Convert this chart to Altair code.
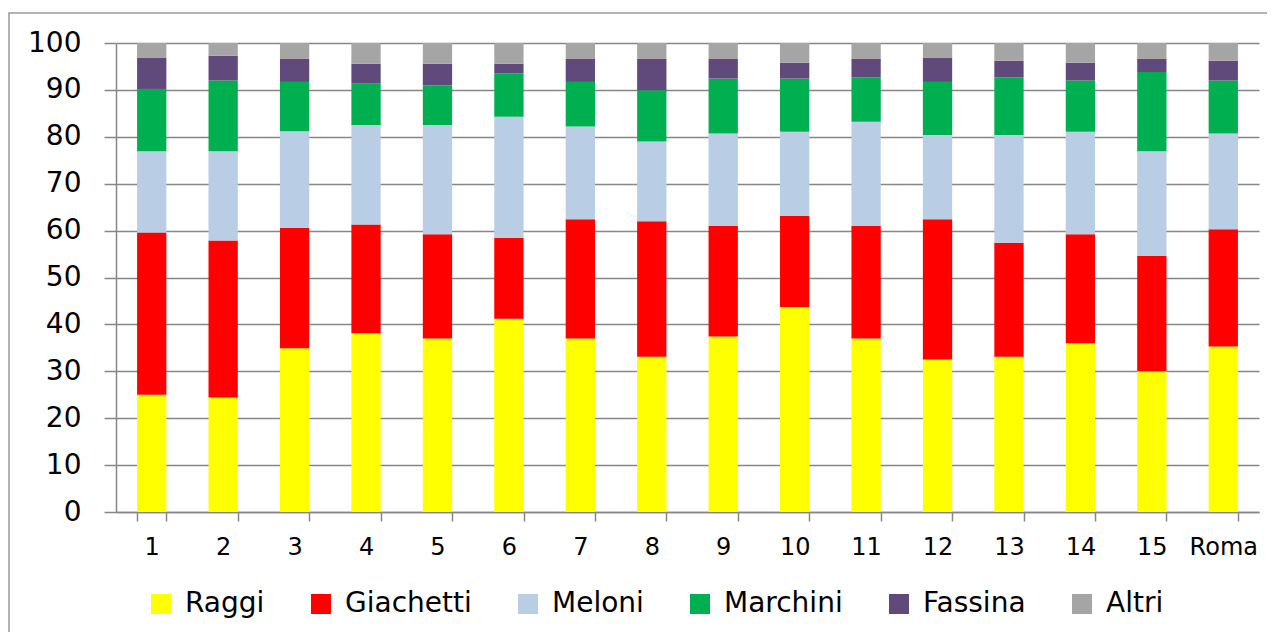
import altair as alt
import pandas as pd

categories = ["1", "2", "3", "4", "5", "6", "7", "8", "9", "10", "11", "12", "13", "14", "15", "Roma"]
series = ["Raggi", "Giachetti", "Meloni", "Marchini", "Fassina", "Altri"]
colors = ["#FFFF00", "#FF0000", "#B9CDE5", "#00B050", "#604A7B", "#A5A5A5"]

raggi = [25.0, 24.4, 34.9, 38.1, 37.0, 41.2, 37.0, 33.1, 37.4, 43.7, 37.0, 32.5, 33.1, 36.0, 30.0, 35.3]
giachetti = [34.6, 33.5, 25.7, 23.2, 22.2, 17.3, 25.4, 28.9, 23.6, 19.4, 24.0, 29.9, 24.3, 23.2, 24.6, 25.0]
meloni = [17.3, 19.0, 20.6, 21.2, 23.3, 25.8, 19.8, 17.0, 19.7, 18.0, 22.2, 18.0, 23.0, 21.9, 22.3, 20.4]
marchini = [13.3, 15.1, 10.5, 8.9, 8.5, 9.2, 9.5, 10.9, 11.7, 11.3, 9.5, 11.3, 12.3, 10.9, 16.9, 11.3]
fassina = [6.7, 5.3, 4.9, 4.2, 4.6, 2.1, 4.9, 6.7, 4.2, 3.4, 3.9, 5.2, 3.5, 3.8, 2.8, 4.2]
altri = [3.1, 2.7, 3.4, 4.4, 4.4, 4.4, 3.4, 3.4, 3.4, 4.2, 3.4, 3.1, 3.8, 4.2, 3.4, 3.8]

y_ticks = list(range(0, 101, 10))

rows = []
for si, (name, vals) in enumerate(zip(series, [raggi, giachetti, meloni, marchini, fassina, altri])):
    for c, v in zip(categories, vals):
        rows.append({"municipio": c, "candidato": name, "valore": v, "ordine": si})
df = pd.DataFrame(rows)

W, H = 1143, 469
GRID = "#868686"

bars = alt.Chart(df).mark_bar().encode(
    x=alt.X(
        "municipio:N",
        sort=categories,
        scale=alt.Scale(paddingInner=0.59, paddingOuter=0.295),
        axis=alt.Axis(
            title=None, labelAngle=0, tickBand="extent", tickSize=9, tickWidth=1.5,
            tickColor=GRID, domainColor=GRID, domainWidth=1.5, grid=False,
            labelFont="DejaVu Sans", labelFontSize=24, labelColor="black",
            labelPadding=14, labelBaseline="top",
        ),
    ),
    y=alt.Y(
        "valore:Q",
        stack="zero",
        scale=alt.Scale(domain=[0, 100], nice=False),
        axis=alt.Axis(
            title=None, values=y_ticks, tickSize=12, tickWidth=1.5, tickColor=GRID,
            domainColor=GRID, domainWidth=1.5, grid=True, gridColor=GRID, gridWidth=1.5,
            labelFont="DejaVu Sans", labelFontSize=28, labelColor="black", labelPadding=23,
        ),
    ),
    color=alt.Color(
        "candidato:N",
        sort=series,
        scale=alt.Scale(domain=series, range=colors),
        legend=alt.Legend(
            title=None, orient="none", legendX=31, legendY=547, direction="horizontal",
            symbolType="square", symbolSize=400, symbolStrokeWidth=0, symbolOpacity=1,
            labelFont="DejaVu Sans", labelFontSize=28, labelColor="black", labelOffset=10,
            columnPadding=42, padding=0, labelLimit=300,
        ),
    ),
    order=alt.Order("ordine:Q", sort="ascending"),
)

frame = alt.Chart(alt.Data(values=[{}])).mark_rect(
    filled=False, stroke="#9a9a9a", strokeWidth=1.5
).encode(
    x=alt.value(-107), x2=alt.value(W + 100), y=alt.value(-30), y2=alt.value(H + 300)
)

chart = alt.layer(frame, bars).properties(
    width=W,
    height=H,
    padding={"left": 108, "top": 35, "right": 8, "bottom": 120},
    autosize=alt.AutoSizeParams(type="none"),
).configure_view(stroke=None)

chart.save("out.html", embed_options={"renderer": "svg", "actions": False})
